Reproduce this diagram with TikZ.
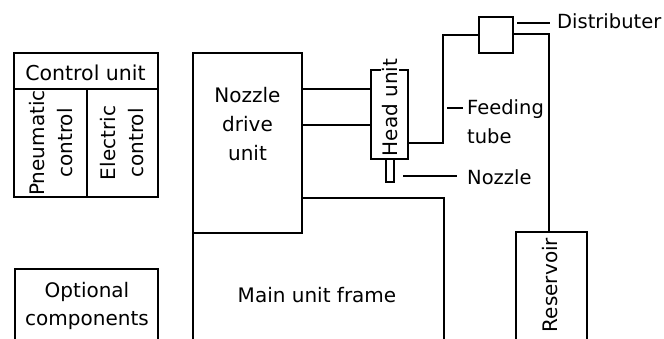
\documentclass[tikz,border=0pt]{standalone}
\usepackage{fontspec}
\setmainfont{DejaVu Sans}
\begin{document}
\begin{tikzpicture}[x=1pt,y=-1pt,
  ln/.style={line width=1.1pt},
  boxwh/.style 2 args={draw, line width=1.1pt, inner sep=0pt, outer sep=0pt, minimum width=#1, minimum height=#2},
  lbl/.style={inner sep=0pt, font=\fontsize{20}{28}\selectfont},
  rlbl/.style={inner sep=0pt, font=\fontsize{19.5}{29}\selectfont}]
\useasboundingbox (0,0) rectangle (664,338);
\clip (0,0) rectangle (664,338);
% main frame (behind nozzle drive unit)
\node[boxwh={251}{222}] (main) at (318.5,309) {};
% control unit
\node[boxwh={144}{36}] (cuhead) at (86,71) {};
\node[boxwh={73}{108}] (pneu) at (50.5,143) {};
\node[boxwh={71}{108}] (elec) at (122.5,143) {};
% nozzle drive unit
\node[boxwh={109}{180}, fill=white] (nd) at (247.5,143) {};
% optional components
\node[boxwh={143}{151}] (opt) at (86.5,344.5) {};
% head unit and nozzle
\node[boxwh={37}{89}] (head) at (389.5,114.5) {};
\node[boxwh={8}{23}] (noz) at (390,170.5) {};
% distributer and reservoir
\node[boxwh={34}{36}] (dist) at (496,35) {};
\node[boxwh={71}{188}] (res) at (551.5,326) {};
% texts
\node[lbl, anchor=base, font=\fontsize{20.5}{28}\selectfont] (tcu) at (85.5,80) {Control unit};
\node[lbl, rotate=90, align=center] (tpn) at (51,143) {Pneumatic\\control};
\node[lbl, rotate=90, align=center] (tel) at (122,143) {Electric\\control};
\node[lbl, anchor=north, align=center, font=\fontsize{20}{29}\selectfont] (tnd) at (247.5,87) {Nozzle\\drive\\unit};
\node[lbl, rotate=90, fill=white, inner sep=1pt] (thu) at (390,107.5) {Head unit};
\node[lbl, anchor=base] (tmf) at (317,302) {Main unit frame};
\node[lbl, anchor=north, align=center] (top) at (87,281.8) {Optional\\components};
\node[lbl, rotate=90] (tre) at (550.5,285) {Reservoir};
\node[rlbl, anchor=base west] (tdi) at (557,28) {Distributer};
\node[rlbl, anchor=north west, align=left] (tft) at (467,99) {Feeding\\tube};
\node[rlbl, anchor=base west] (tno) at (467,184) {Nozzle};
% connectors nozzle drive -> head unit
\coordinate (a1) at ([yshift=54pt]nd.east);
\coordinate (a2) at ([yshift=18pt]nd.east);
\draw[ln] (a1) -- (a1 -| head.west);
\draw[ln] (a2) -- (a2 -| head.west);
% feeding tube
\coordinate (f1) at ([yshift=-28.5pt]head.east);
\coordinate (fc) at (443,35);
\draw[ln] (f1) -| (fc) -- (dist.west);
% distributer -> reservoir
\coordinate (o1) at ([yshift=1pt]dist.east);
\draw[ln] (o1) -| ([xshift=-2.5pt]res.north);
% leaders
\coordinate (dl1) at (517,23); \coordinate (dl2) at (550,23);
\draw[ln] (dl1) -- (dl2);
\coordinate (fl1) at (447,108); \coordinate (fl2) at (463,108);
\draw[ln] (fl1) -- (fl2);
\coordinate (nl1) at (403,176); \coordinate (nl2) at (457,176);
\draw[ln] (nl1) -- (nl2);
\end{tikzpicture}
\end{document}
